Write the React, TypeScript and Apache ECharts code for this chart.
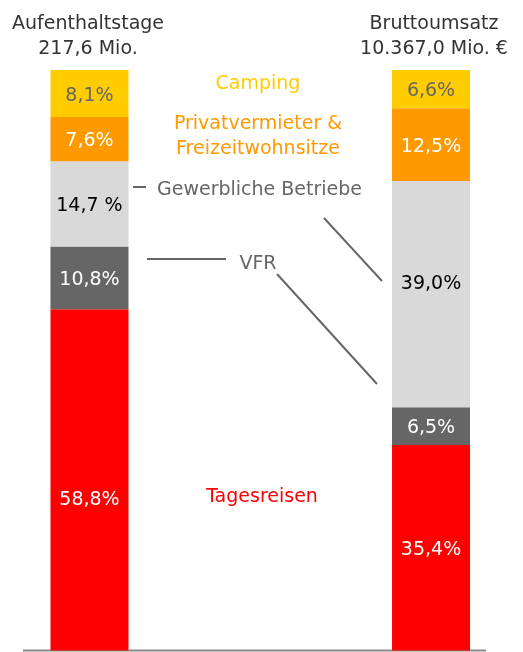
import React, { useEffect, useRef } from "react";
import * as echarts from "echarts";

const categories = ["Aufenthaltstage", "Bruttoumsatz"];
const totals = ["217,6 Mio.", "10.367,0 Mio. €"];

const seriesNames = ["Tagesreisen", "VFR", "Gewerbliche Betriebe", "Privatvermieter & Freizeitwohnsitze", "Camping"];
const tagesreisen = [58.8, 35.4];
const vfr = [10.8, 6.5];
const gewerbliche = [14.7, 39.0];
const privatvermieter = [7.6, 12.5];
const camping = [8.1, 6.6];
const gewerblicheLabels = ["14,7 %", "39,0%"];

const FONT = "DejaVu Sans";
const FS = 19;

// the two bars sit in the outer slots of a three-slot category axis, the middle slot holds the annotations
const slots = [categories[0], "", categories[1]];

export default function App() {
  const ref = useRef<HTMLDivElement>(null);
  useEffect(() => {
    if (!ref.current) return;
    const chart = echarts.init(ref.current, null, { renderer: "svg" });
    const fmt = (v: number) => v.toFixed(1).replace(".", ",") + "%";
    const mk = (vals: number[], labels?: string[], offsets?: (number[] | null)[]) => {
      const items = vals.map((v, i) => {
        const it: any = { value: v, labelText: labels ? labels[i] : fmt(v) };
        if (offsets && offsets[i]) it.label = { offset: offsets[i] };
        return it;
      });
      return [items[0], "-", items[1]];
    };
    const baseLabel = {
      show: true,
      position: "inside" as const,
      fontFamily: FONT,
      fontSize: FS,
      formatter: (p: any) => p.data.labelText,
    };
    const lineStyle = { stroke: "#666666", lineWidth: 2 };
    const font = `${FS}px '${FONT}'`;
    chart.setOption({
      animation: false,
      grid: { left: 4.1, right: 6.6, top: 70, bottom: 1.5 },
      xAxis: {
        type: "category",
        data: slots,
        axisLine: { show: false },
        axisTick: { show: false },
        axisLabel: { show: false },
        splitLine: { show: false },
      },
      yAxis: {
        type: "value",
        min: 0,
        max: 100,
        show: false,
      },
      series: [
        {
          name: seriesNames[0],
          type: "bar",
          stack: "s",
          barWidth: 78,
          itemStyle: { color: "#FF0000" },
          label: { ...baseLabel, color: "#FFFFFF" },
          data: mk(tagesreisen, undefined, [[0, 18], null]),
        },
        {
          name: seriesNames[1],
          type: "bar",
          stack: "s",
          barWidth: 78,
          itemStyle: { color: "#666666" },
          label: { ...baseLabel, color: "#FFFFFF" },
          data: mk(vfr),
        },
        {
          name: seriesNames[2],
          type: "bar",
          stack: "s",
          barWidth: 78,
          itemStyle: { color: "#D9D9D9" },
          label: { ...baseLabel, color: "#000000" },
          data: mk(gewerbliche, gewerblicheLabels, [null, [0, -12]]),
        },
        {
          name: seriesNames[3],
          type: "bar",
          stack: "s",
          barWidth: 78,
          itemStyle: { color: "#FF9900" },
          label: { ...baseLabel, color: "#FFFFFF" },
          data: mk(privatvermieter),
        },
        {
          name: seriesNames[4],
          type: "bar",
          stack: "s",
          barWidth: 78,
          itemStyle: { color: "#FFCC00" },
          label: { ...baseLabel, color: "#666666" },
          data: mk(camping),
        },
      ],
      graphic: [
        {
          type: "text",
          x: 88,
          y: 9,
          style: { text: categories[0] + "\n" + totals[0], fill: "#333333", font, textAlign: "center", lineHeight: 25 },
        },
        {
          type: "text",
          x: 434,
          y: 9,
          style: { text: categories[1] + "\n" + totals[1], fill: "#333333", font, textAlign: "center", lineHeight: 25 },
        },
        {
          type: "text",
          x: 258,
          y: 82,
          style: { text: "Camping", fill: "#FFCC00", font, textAlign: "center", textVerticalAlign: "middle" },
        },
        {
          type: "text",
          x: 258,
          y: 109,
          style: { text: "Privatvermieter &\nFreizeitwohnsitze", fill: "#FF9900", font, textAlign: "center", lineHeight: 25 },
        },
        {
          type: "text",
          x: 157,
          y: 188,
          style: { text: "Gewerbliche Betriebe", fill: "#666666", font, textAlign: "left", textVerticalAlign: "middle" },
        },
        {
          type: "text",
          x: 258,
          y: 262,
          style: { text: "VFR", fill: "#666666", font, textAlign: "center", textVerticalAlign: "middle" },
        },
        {
          type: "text",
          x: 262,
          y: 495,
          style: { text: "Tagesreisen", fill: "#FF0000", font, textAlign: "center", textVerticalAlign: "middle" },
        },
        { type: "line", shape: { x1: 23, y1: 650.5, x2: 486, y2: 650.5 }, style: { stroke: "#888888", lineWidth: 2 } },
        { type: "line", shape: { x1: 133, y1: 187, x2: 146, y2: 187 }, style: lineStyle },
        { type: "line", shape: { x1: 324, y1: 218, x2: 382, y2: 281 }, style: lineStyle },
        { type: "line", shape: { x1: 147, y1: 259, x2: 226, y2: 259 }, style: lineStyle },
        { type: "line", shape: { x1: 277, y1: 274, x2: 377, y2: 384 }, style: lineStyle },
      ],
    });
    return () => chart.dispose();
  }, []);
  return (
    <div
      ref={ref}
      style={{ position: "fixed", left: 0, top: 0, width: 523, height: 652 }}
    />
  );
}
